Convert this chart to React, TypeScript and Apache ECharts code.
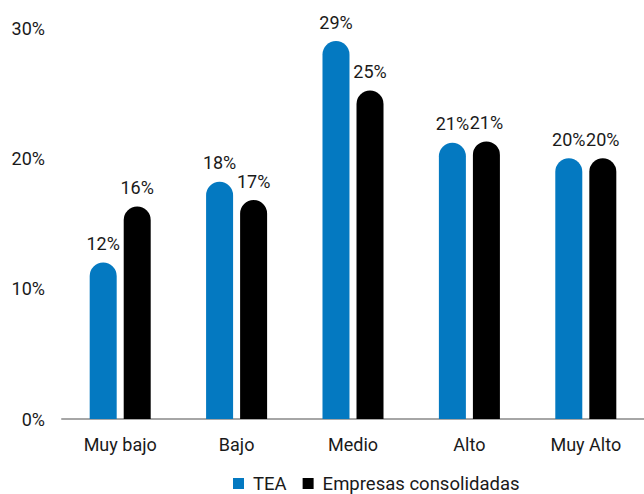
import React, { useEffect, useRef } from "react";
import * as echarts from "echarts";

const categories = ["Muy bajo", "Bajo", "Medio", "Alto", "Muy Alto"];
const teaValues = [12.0, 18.2, 29.0, 21.2, 20.0];
const consolidadasValues = [16.3, 16.8, 25.2, 21.3, 20.0];
const seriesNames = ["TEA", "Empresas consolidadas"];
const yTicks = [0, 10, 20, 30];

const FONT = "Roboto, 'Noto Sans', sans-serif";

export default function App() {
  const ref = useRef<HTMLDivElement>(null);
  useEffect(() => {
    document.body.style.margin = "0";
    const chart = echarts.init(ref.current!, null, { renderer: "svg" });
    const label = {
      show: true,
      position: "top" as const,
      distance: 10,
      fontSize: 18,
      fontFamily: FONT,
      color: "#1a1a1a",
      formatter: (p: any) => Math.round(p.value) + "%",
    };
    chart.setOption({
      animation: false,
      textStyle: { fontFamily: FONT },
      grid: { left: 62, right: -11, top: 28, bottom: 75 },
      legend: {
        data: seriesNames,
        top: 469,
        left: 228,
        itemWidth: 11,
        itemHeight: 11,
        itemGap: 16,
        icon: "rect",
        textStyle: { fontSize: 18.5, fontFamily: FONT, color: "#1a1a1a", padding: [0, 0, 0, 4] },
      },
      xAxis: {
        type: "category",
        data: categories,
        axisLine: { lineStyle: { color: "#a6a6a6", width: 2 } },
        axisTick: { show: false },
        axisLabel: { fontSize: 18, fontFamily: FONT, color: "#1a1a1a", margin: 16 },
      },
      yAxis: {
        type: "value",
        min: yTicks[0],
        max: yTicks[yTicks.length - 1],
        interval: 10,
        splitLine: { show: false },
        axisLine: { show: false },
        axisTick: { show: false },
        axisLabel: {
          fontSize: 18,
          fontFamily: FONT,
          color: "#1a1a1a",
          margin: 17,
          formatter: (v: number) => v + "%",
        },
      },
      series: [
        {
          name: seriesNames[0],
          type: "bar",
          data: teaValues,
          barWidth: 27,
          barGap: "26%",
          itemStyle: { color: "#0479c1", borderRadius: [13.5, 13.5, 0, 0] },
          label,
        },
        {
          name: seriesNames[1],
          type: "bar",
          data: consolidadasValues,
          barWidth: 27,
          itemStyle: { color: "#000000", borderRadius: [13.5, 13.5, 0, 0] },
          label,
        },
      ],
    });
    return () => chart.dispose();
  }, []);
  return <div ref={ref} style={{ width: 644, height: 494 }} />;
}
